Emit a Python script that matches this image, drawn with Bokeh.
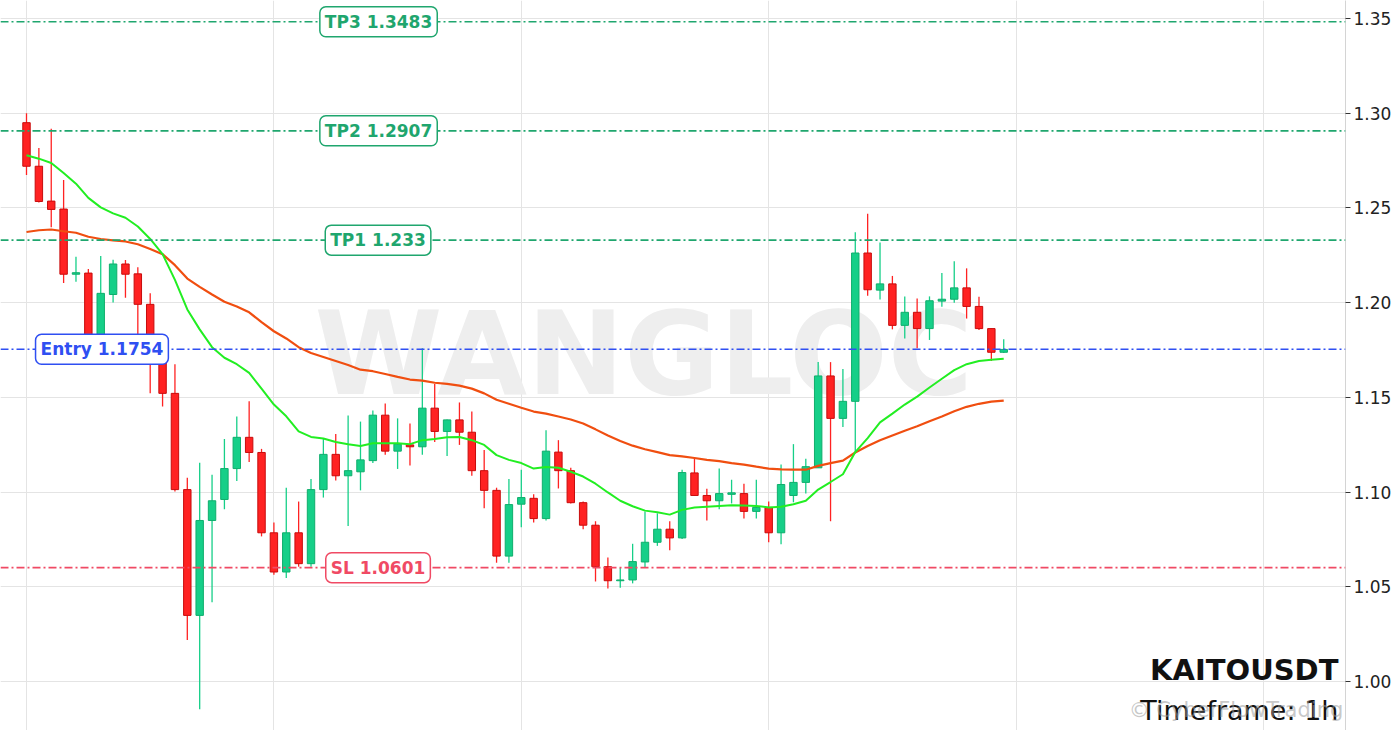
import numpy as np
from bokeh.plotting import figure
from bokeh.models import (ColumnDataSource, Span, Label, FixedTicker, Grid,
                          Range1d, PrintfTickFormatter)
from bokeh.embed import file_html
from bokeh.resources import INLINE

# ---------------- data ----------------
open_ = [1.2950, 1.2720, 1.2536, 1.2494, 1.2150, 1.2156, 1.1740, 1.2043, 1.2204, 1.2152,
         1.1991, 1.1780, 1.1521, 1.1013, 1.0349, 1.0850, 1.0961, 1.1124, 1.1289, 1.1209,
         1.0785, 1.0578, 1.0785, 1.0622, 1.1013, 1.1199, 1.1086, 1.1107, 1.1166, 1.1406,
         1.1216, 1.1249, 1.1239, 1.1443, 1.1320, 1.1381, 1.1316, 1.1113, 1.1009, 1.0662,
         1.0936, 1.0967, 1.0860, 1.1211, 1.1113, 1.0944, 1.0825, 1.0606, 1.0532, 1.0536,
         1.0631, 1.0735, 1.0804, 1.0758, 1.1101, 1.0982, 1.0954, 1.0988, 1.0992, 1.0898,
         1.0919, 1.0785, 1.0982, 1.1051, 1.1128, 1.1613, 1.1389, 1.1479, 1.2262, 1.2066,
         1.2099, 1.1880, 1.1949, 1.1863, 1.2008, 1.2018, 1.2078, 1.1980, 1.1863, 1.1738]
high = [1.3000, 1.2816, 1.2918, 1.2647, 1.2242, 1.2177, 1.2246, 1.2227, 1.2225, 1.2187,
        1.2050, 1.1790, 1.1675, 1.1076, 1.1155, 1.1092, 1.1280, 1.1399, 1.1479, 1.1228,
        1.0840, 1.1023, 1.0950, 1.1069, 1.1280, 1.1306, 1.1404, 1.1372, 1.1431, 1.1468,
        1.1389, 1.1362, 1.1759, 1.1571, 1.1383, 1.1473, 1.1425, 1.1222, 1.1023, 1.1069,
        1.1118, 1.0988, 1.1326, 1.1274, 1.1128, 1.0950, 1.0846, 1.0654, 1.0599, 1.0727,
        1.0898, 1.0888, 1.0846, 1.1118, 1.1180, 1.1017, 1.1124, 1.1065, 1.1044, 1.1065,
        1.0950, 1.1145, 1.1253, 1.1176, 1.1686, 1.1686, 1.1650, 1.2371, 1.2469, 1.2318,
        1.2141, 1.2033, 1.2022, 1.2033, 1.2156, 1.2219, 1.2181, 1.2031, 1.1863, 1.1807]
low = [1.2674, 1.2528, 1.2398, 1.2104, 1.2110, 1.1700, 1.1720, 1.2001, 1.2026, 1.1760,
       1.1521, 1.1452, 1.1003, 1.0219, 0.9853, 1.0418, 1.0909, 1.1059, 1.1159, 1.0766,
       1.0564, 1.0547, 1.0606, 1.0606, 1.0971, 1.1061, 1.0821, 1.1009, 1.1153, 1.1197,
       1.1122, 1.1140, 1.1197, 1.1264, 1.1191, 1.1249, 1.1086, 1.0915, 1.0627, 1.0627,
       1.0814, 1.0840, 1.0850, 1.1019, 1.0940, 1.0804, 1.0528, 1.0491, 1.0495, 1.0518,
       1.0601, 1.0716, 1.0693, 1.0752, 1.0982, 1.0850, 1.0909, 1.0940, 1.0860, 1.0860,
       1.0735, 1.0725, 1.0946, 1.0992, 1.1128, 1.0846, 1.1343, 1.1211, 1.2037, 1.2016,
       1.1859, 1.1811, 1.1759, 1.1803, 1.1978, 1.1999, 1.1916, 1.1855, 1.1692, 1.1734]
close = [1.2720, 1.2534, 1.2492, 1.2150, 1.2158, 1.1734, 1.2049, 1.2204, 1.2150, 1.1991,
         1.1780, 1.1521, 1.1013, 1.0349, 1.0850, 1.0954, 1.1124, 1.1289, 1.1209, 1.0785,
         1.0578, 1.0785, 1.0622, 1.1013, 1.1199, 1.1086, 1.1113, 1.1170, 1.1406, 1.1216,
         1.1253, 1.1239, 1.1443, 1.1320, 1.1381, 1.1316, 1.1113, 1.1009, 1.0662, 1.0934,
         1.0971, 1.0860, 1.1216, 1.1113, 1.0944, 1.0825, 1.0606, 1.0532, 1.0536, 1.0633,
         1.0735, 1.0804, 1.0758, 1.1103, 1.0982, 1.0954, 1.0992, 1.0996, 1.0898, 1.0919,
         1.0785, 1.1040, 1.1051, 1.1134, 1.1613, 1.1389, 1.1479, 1.2262, 1.2068, 1.2099,
         1.1880, 1.1949, 1.1863, 1.2010, 1.2018, 1.2078, 1.1980, 1.1863, 1.1738, 1.1753]
ma_fast = [1.2778, 1.2760, 1.2737, 1.2684, 1.2628, 1.2553, 1.2503, 1.2471, 1.2448, 1.2402,
           1.2336, 1.2256, 1.2120, 1.1964, 1.1859, 1.1765, 1.1709, 1.1675, 1.1629, 1.1546,
           1.1462, 1.1400, 1.1320, 1.1291, 1.1283, 1.1264, 1.1253, 1.1243, 1.1258, 1.1258,
           1.1258, 1.1253, 1.1274, 1.1280, 1.1289, 1.1291, 1.1274, 1.1249, 1.1195, 1.1170,
           1.1153, 1.1124, 1.1132, 1.1128, 1.1107, 1.1082, 1.1044, 1.0998, 1.0954, 1.0925,
           1.0902, 1.0894, 1.0881, 1.0906, 1.0919, 1.0923, 1.0927, 1.0931, 1.0929, 1.0927,
           1.0919, 1.0923, 1.0936, 1.0954, 1.1013, 1.1053, 1.1094, 1.1211, 1.1285, 1.1368,
           1.1414, 1.1462, 1.1504, 1.1552, 1.1598, 1.1644, 1.1675, 1.1692, 1.1698, 1.1704]
ma_slow = [1.2373, 1.2382, 1.2386, 1.2377, 1.2369, 1.2348, 1.2336, 1.2329, 1.2323, 1.2308,
           1.2283, 1.2256, 1.2198, 1.2127, 1.2083, 1.2043, 1.2005, 1.1980, 1.1949, 1.1897,
           1.1849, 1.1811, 1.1765, 1.1734, 1.1713, 1.1692, 1.1671, 1.1646, 1.1638, 1.1623,
           1.1608, 1.1594, 1.1588, 1.1577, 1.1571, 1.1562, 1.1546, 1.1521, 1.1487, 1.1466,
           1.1445, 1.1425, 1.1414, 1.1399, 1.1383, 1.1362, 1.1331, 1.1299, 1.1270, 1.1245,
           1.1226, 1.1211, 1.1195, 1.1188, 1.1180, 1.1170, 1.1163, 1.1153, 1.1145, 1.1134,
           1.1124, 1.1120, 1.1118, 1.1118, 1.1138, 1.1153, 1.1166, 1.1209, 1.1243, 1.1274,
           1.1299, 1.1324, 1.1347, 1.1374, 1.1399, 1.1427, 1.1450, 1.1466, 1.1477, 1.1483]

tp3, tp2, tp1 = 1.3483, 1.2907, 1.233
entry = 1.1754
sl = 1.0601
y_ticks = [1.00, 1.05, 1.10, 1.15, 1.20, 1.25, 1.30, 1.35]
x_grid_ticks = [0, 20, 40, 60, 80, 100]
symbol = "KAITOUSDT"
timeframe = "Timeframe: 1h"
credit = "\u00a9 CyberFlowTrading"

# ---------------- styles ----------------
UP_FILL, UP_EDGE = "#16cf88", "#0fae6c"
DN_FILL, DN_EDGE = "#ff2222", "#c80c0c"
TP_COLOR = "#1fa66e"
ENTRY_COLOR = "#2f4ff2"
SL_COLOR = "#f04a64"
FONT = "DejaVu Sans"

x = np.arange(len(close))
inc = np.array(close) >= np.array(open_)
src = ColumnDataSource(dict(
    x=x, open=open_, high=high, low=low, close=close,
    top=np.maximum(open_, close), bottom=np.minimum(open_, close),
    fill=[UP_FILL if u else DN_FILL for u in inc],
    edge=[UP_EDGE if u else DN_EDGE for u in inc],
    wick=[UP_FILL if u else DN_FILL for u in inc],
))

p = figure(frame_width=1345, frame_height=730, output_backend="svg",
           toolbar_location=None,
           x_range=Range1d(-2.102, 106.63), y_range=Range1d(0.97413, 1.35950),
           x_axis_location=None, y_axis_location="right", min_border=0)
p.outline_line_color = None
p.background_fill_color = "white"
p.border_fill_color = "white"

p.ygrid.ticker = FixedTicker(ticks=y_ticks)
p.ygrid.grid_line_color = "#e4e4e4"
if len(p.xgrid) > 0:
    p.xgrid.ticker = FixedTicker(ticks=x_grid_ticks)
    p.xgrid.grid_line_color = "#e4e4e4"
else:
    p.add_layout(Grid(dimension=0, ticker=FixedTicker(ticks=x_grid_ticks),
                      grid_line_color="#e4e4e4"))

ax = p.yaxis[0]
ax.ticker = FixedTicker(ticks=y_ticks)
ax.formatter = PrintfTickFormatter(format="%.2f")
ax.axis_line_color = "#d4d4d4"
ax.major_tick_line_color = "#333333"
ax.major_tick_out = 5
ax.major_tick_in = 0
ax.minor_tick_line_color = None
ax.major_label_text_font = FONT
ax.major_label_text_font_size = "17px"
ax.major_label_text_color = "#222222"
ax.major_label_standoff = 3

# watermark
p.add_layout(Label(x=49.9, y=1.1732, text="WANGLOC", text_align="center",
                   text_baseline="alphabetic", text_font=FONT,
                   text_font_style="bold", text_font_size="116px",
                   text_color="#eeeeee", level="underlay"))

# candles
p.segment(x0="x", y0="low", x1="x", y1="high", line_color="wick",
          line_width=1.3, source=src)
p.vbar(x="x", width=0.6, top="top", bottom="bottom", fill_color="fill",
       line_color="edge", line_width=1, source=src)

# moving averages
p.line(x, ma_slow, line_color="#f04e10", line_width=2.2)
p.line(x, ma_fast, line_color="#22ee22", line_width=2.0)

# levels
for lvl, col in [(tp3, TP_COLOR), (tp2, TP_COLOR), (tp1, TP_COLOR),
                 (entry, ENTRY_COLOR), (sl, SL_COLOR)]:
    p.add_layout(Span(location=lvl, dimension="width", line_color=col,
                      line_width=1.6, line_dash="8 3 2 3"))

def level_label(xpos, ypos, text, col):
    p.add_layout(Label(x=xpos, y=ypos, text=text, text_align="center",
                       text_baseline="middle", text_font=FONT,
                       text_font_style="bold", text_font_size="17px",
                       text_color=col, background_fill_color="white",
                       border_line_color=col, border_line_width=1.5,
                       padding=5, border_radius=6))

level_label(28.46, tp3, f"TP3 {tp3}", TP_COLOR)
level_label(28.46, tp2, f"TP2 {tp2}", TP_COLOR)
level_label(28.42, tp1, f"TP1 {tp1}", TP_COLOR)
level_label(6.10, entry, f"Entry {entry}", ENTRY_COLOR)
level_label(28.42, sl, f"SL {sl}", SL_COLOR)

# symbol / timeframe
p.add_layout(Label(x=106.06, y=1.0061, text=symbol, text_align="right",
                   text_baseline="alphabetic", text_font=FONT,
                   text_font_style="bold", text_font_size="29px",
                   text_color="#111111"))
p.add_layout(Label(x=106.06, y=0.9845, text=timeframe, text_align="right",
                   text_baseline="alphabetic", text_font=FONT,
                   text_font_size="27px", text_color="#111111"))
p.add_layout(Label(x=106.45, y=0.9850, text=credit,
                   text_align="right", text_baseline="alphabetic",
                   text_font=FONT, text_font_size="21px",
                   text_color="#9a9a9a", text_alpha=0.55))

open("out.html", "w").write(file_html(p, INLINE))
